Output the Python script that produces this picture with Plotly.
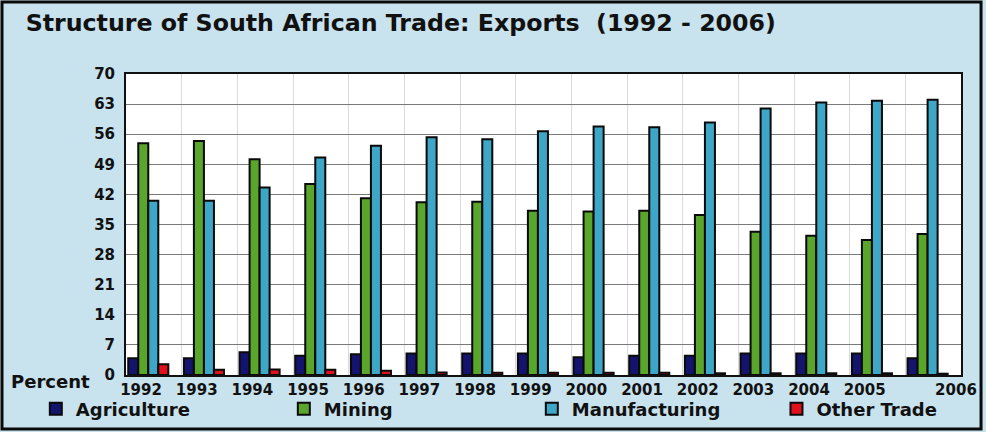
import numpy as np
import plotly.graph_objects as go

# Share of total exports by sector, percent
years = ["1992", "1993", "1994", "1995", "1996", "1997", "1998", "1999",
         "2000", "2001", "2002", "2003", "2004", "2005", "2006"]
agriculture = [3.9, 3.9, 5.3, 4.5, 4.8, 5.0, 5.0, 5.0, 4.1, 4.5, 4.5, 5.0, 5.0, 5.0, 3.9]
mining = [53.9, 54.4, 50.2, 44.4, 41.1, 40.2, 40.3, 38.2, 38.0, 38.2, 37.2, 33.3, 32.4, 31.4, 32.8]
manufacturing = [40.5, 40.5, 43.6, 50.6, 53.3, 55.3, 54.8, 56.7, 57.8, 57.6, 58.7, 62.0, 63.4, 63.8, 64.0]
other_trade = [2.5, 1.2, 1.3, 1.2, 1.0, 0.6, 0.5, 0.5, 0.5, 0.5, 0.4, 0.4, 0.4, 0.4, 0.3]
y_ticks = [0, 7, 14, 21, 28, 35, 42, 49, 56, 63, 70]

series = [
    ("Agriculture", agriculture, "#14146e", "legend"),
    ("Mining", mining, "#5aa52c", "legend"),
    ("Manufacturing", manufacturing, "#3ea6c6", "legend"),
    ("Other Trade", other_trade, "#e0101c", "legend2"),
]

idx = np.arange(len(years))
bar_w = 0.18
fig = go.Figure()
for k, (name, vals, color, leg) in enumerate(series):
    fig.add_trace(go.Bar(
        x=idx, y=vals, name=name, legend=leg,
        width=bar_w, offset=0.04 + bar_w * k,
        marker=dict(color=color, line=dict(color="#0a0a0a", width=2)),
    ))

tick_pos = [i + 0.27 for i in range(len(years) - 1)] + [14.91]
tick_font = dict(family="DejaVu Sans", size=15, color="#111111", weight="bold")
legend_font = dict(family="DejaVu Sans", size=18, color="#111111", weight="bold")

fig.update_layout(
    width=986, height=432,
    margin=dict(l=126, r=25, t=74, b=57, autoexpand=False),
    paper_bgcolor="#c8e2ee",
    plot_bgcolor="#ffffff",
    barmode="overlay",
    showlegend=True,
    title=dict(
        text="Structure of South African Trade: Exports  (1992 - 2006)",
        x=0.026, xanchor="left", y=0.948, yanchor="middle",
        font=dict(family="DejaVu Sans", size=23.7, color="#111111", weight="bold"),
    ),
    legend=dict(
        orientation="h", x=-0.108, xanchor="left", y=-0.113, yanchor="middle",
        entrywidth=203, entrywidthmode="pixels",
        bgcolor="rgba(0,0,0,0)", font=legend_font, traceorder="normal",
    ),
    legend2=dict(
        orientation="h", x=0.779, xanchor="left", y=-0.113, yanchor="middle",
        bgcolor="rgba(0,0,0,0)", font=legend_font,
    ),
    xaxis=dict(
        range=[0, 15], tickvals=tick_pos, ticktext=years,
        showgrid=False, zeroline=False,
        showline=True, linecolor="#111111", linewidth=2, mirror=True,
        ticks="", tickfont=tick_font, ticklabelstandoff=0,
        minor=dict(tick0=0, dtick=1, showgrid=True, gridcolor="#dadada", gridwidth=1),
    ),
    yaxis=dict(
        range=[0, 70], tickvals=y_ticks,
        showgrid=True, gridcolor="#7a7a7a", gridwidth=1,
        zeroline=False,
        showline=True, linecolor="#111111", linewidth=2, mirror=True,
        ticks="", tickfont=tick_font, ticklabelstandoff=6,
    ),
    annotations=[dict(
        text="Percent", xref="paper", yref="paper",
        x=-0.09, y=-0.023, xanchor="center", yanchor="middle", showarrow=False,
        font=dict(family="DejaVu Sans", size=18, color="#111111", weight="bold"),
    )],
    shapes=[dict(
        type="rect", xref="paper", yref="paper",
        x0=-0.1485, x1=1.024, y0=-0.179, y1=1.239,
        line=dict(color="#0a0a0a", width=3), layer="below",
    )],
)

fig.write_html("out.html")
